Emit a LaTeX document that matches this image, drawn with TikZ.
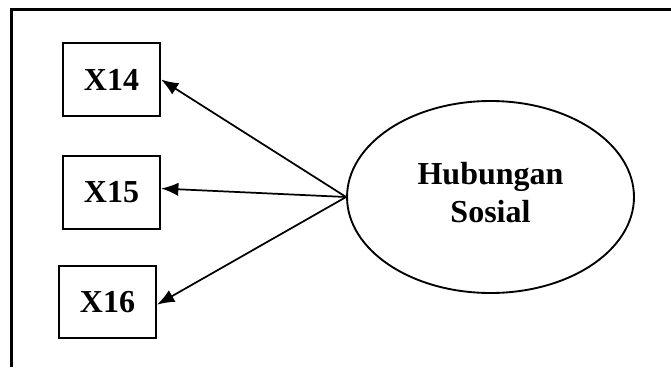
\documentclass[tikz,border=0pt]{standalone}
\usepackage{fontspec}
\setmainfont{Liberation Serif}
\usetikzlibrary{arrows.meta}
\usetikzlibrary{shapes.geometric}

\begin{document}
\begin{tikzpicture}[x=0.375pt, y=-0.375pt,
  indikator/.style={draw, line width=0.75pt, minimum width=36.4pt, minimum height=27.2pt, inner sep=0pt, font=\fontsize{12}{14}\selectfont\bfseries},
  laten/.style={draw, ellipse, line width=0.7pt, minimum width=107.6pt, minimum height=72pt, inner sep=0pt, align=center, text depth=3.7pt, font=\fontsize{12}{14.2}\selectfont\bfseries},
  panah/.style={-{Latex[length=6.5pt,width=5pt]}, line width=0.65pt}]
\useasboundingbox (0,0) rectangle (671,367);

\coordinate (F1) at (11.5,367);
\coordinate (F2) at (11.5,9.5);
\coordinate (F3) at (671,9.5);
\draw[line width=0.8pt] (F1) -- (F2) -- (F3);

\node[indikator] (x14) at (111.5,79.5) {X14};
\node[indikator] (x15) at (111.5,192.5) {X15};
\node[indikator] (x16) at (107.5,302) {X16};

\node[laten] (hs) at (490.5,197) {Hubungan\\Sosial};

\draw[panah] (hs.west) -- (x14.east);
\draw[panah] (hs.west) -- ([yshift=1.5pt]x15.east);
\draw[panah] (hs.west) -- ([yshift=-1pt]x16.east);
\end{tikzpicture}
\end{document}
